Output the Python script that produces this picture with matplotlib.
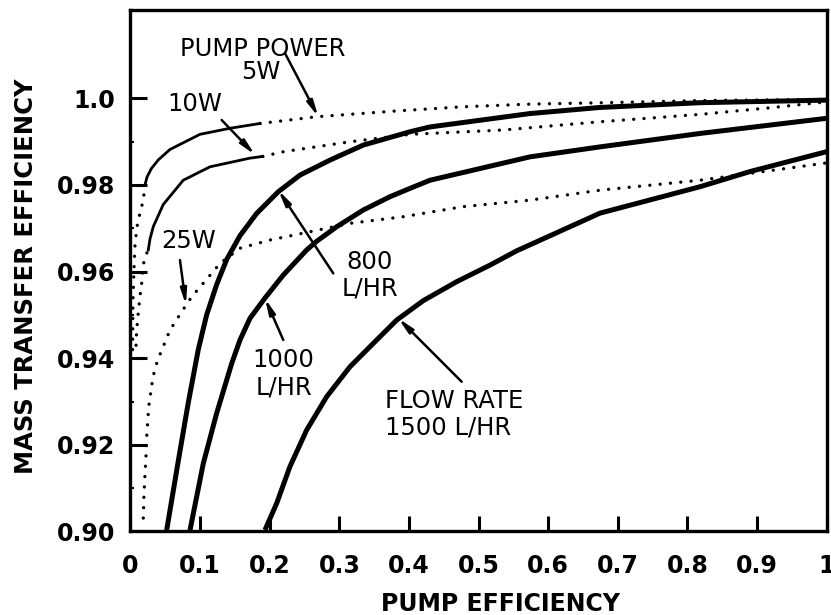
import matplotlib
matplotlib.use("Agg")
import matplotlib.pyplot as plt

# flow-rate curves (thick solid)
x_800 = [0.052, 0.0687, 0.083, 0.0974, 0.1094, 0.1238, 0.1382, 0.1573, 0.1813, 0.2123, 0.2435,
         0.2866, 0.3344, 0.4015, 0.430, 0.574, 0.674, 0.818, 1.0]
y_800 = [0.9003, 0.9163, 0.9297, 0.9420, 0.9500, 0.9570, 0.9628, 0.9683, 0.97345, 0.97844, 0.98229,
         0.98575, 0.98922, 0.99229, 0.9934, 0.9965, 0.9979, 0.9990, 0.9996]

x_1000 = [0.0855, 0.1046, 0.1238, 0.1454, 0.1573, 0.1716, 0.1932, 0.2195, 0.2531, 0.2674, 0.2962,
          0.3344, 0.3727, 0.4015, 0.4302, 0.5739, 0.6744, 0.818, 1.0]
y_1000 = [0.9003, 0.9157, 0.9273, 0.9388, 0.9442, 0.9492, 0.9539, 0.95921, 0.9650, 0.9670, 0.97036,
          0.97422, 0.97729, 0.97922, 0.9811, 0.9865, 0.9888, 0.9919, 0.9954]

x_1500 = [0.1932, 0.21, 0.2291, 0.2531, 0.2818, 0.3153, 0.3488, 0.3824, 0.4206, 0.4685, 0.5164,
          0.5547, 0.6744, 0.818, 0.8898, 1.0]
y_1500 = [0.90035, 0.9065, 0.915, 0.92343, 0.93112, 0.93804, 0.94344, 0.94882, 0.95330, 0.95767, 0.9615,
          0.9648, 0.9735, 0.9796, 0.9831, 0.9877]

# pump power curves: thin solid part + dotted parts
x_5w_solid = [0.0208, 0.0237, 0.030, 0.040, 0.0567, 0.0998, 0.1429, 0.186]
y_5w_solid = [0.9800, 0.9818, 0.9838, 0.9858, 0.9882, 0.9917, 0.9931, 0.9942]
x_5w_dot = [0.003, 0.0036, 0.005, 0.0065, 0.0093, 0.0136, 0.0184, 0.0208]
y_5w_dot = [0.9420, 0.9534, 0.9604, 0.9661, 0.9703, 0.9735, 0.9765, 0.9800]
x_5w_dot2 = [0.186, 0.2674, 0.3824, 0.4776, 0.5739, 0.6744, 0.818, 1.0]
y_5w_dot2 = [0.9942, 0.99576, 0.9971, 0.99806, 0.99868, 0.99898, 0.99949, 0.99977]

x_10w_solid = [0.0256, 0.028, 0.0328, 0.0471, 0.0758, 0.1142, 0.1716, 0.19]
y_10w_solid = [0.9650, 0.9675, 0.9704, 0.9755, 0.9811, 0.9842, 0.9862, 0.9866]
x_10w_dot = [0.008, 0.0089, 0.0112, 0.0136, 0.0161, 0.0184, 0.0208, 0.0256]
y_10w_dot = [0.9430, 0.9465, 0.9504, 0.9542, 0.9573, 0.9615, 0.9634, 0.9650]
x_10w_dot2 = [0.19, 0.2195, 0.3153, 0.4015, 0.5355, 0.6744, 0.818, 0.9229, 1.0]
y_10w_dot2 = [0.9866, 0.98768, 0.98998, 0.9917, 0.9927, 0.9946, 0.9963, 0.9979, 0.9992]

x_25w = [0.0184, 0.0194, 0.0208, 0.0223, 0.0233, 0.0256, 0.027, 0.0294, 0.0313, 0.0352, 0.0414,
         0.0471, 0.0567, 0.0735, 0.0879, 0.0998, 0.1286, 0.1573, 0.2004, 0.2578, 0.3153, 0.3918,
         0.4776, 0.5739, 0.6744, 0.818, 1.0]
y_25w = [0.9031, 0.9084, 0.9130, 0.9173, 0.9219, 0.9273, 0.9300, 0.9323, 0.9346, 0.9377, 0.9405,
         0.9427, 0.9465, 0.9507, 0.9542, 0.9564, 0.9619, 0.9654, 0.9673, 0.9692, 0.97115, 0.97267,
         0.9750, 0.9765, 0.9788, 0.9811, 0.9851]

x_ticks = [0, 0.1, 0.2, 0.3, 0.4, 0.5, 0.6, 0.7, 0.8, 0.9, 1.0]
x_ticklabels = ["0", "0.1", "0.2", "0.3", "0.4", "0.5", "0.6", "0.7", "0.8", "0.9", "1"]
y_ticks = [0.90, 0.92, 0.94, 0.96, 0.98, 1.0]
y_ticklabels = ["0.90", "0.92", "0.94", "0.96", "0.98", "1.0"]

fig = plt.figure(figsize=(8.31, 6.15), dpi=100)
ax = fig.add_axes([0.157, 0.1358, 0.8378, 0.8479])

thick = dict(color="black", lw=3.6, solid_capstyle="butt", solid_joinstyle="round")
thin = dict(color="black", lw=2.0, solid_joinstyle="round")
dots = dict(color="black", lw=2.4, linestyle=(0, (0.01, 3.1)), dash_capstyle="round")

ax.plot(x_800, y_800, **thick)
ax.plot(x_1000, y_1000, **thick)
ax.plot(x_1500, y_1500, **thick)

ax.plot(x_5w_solid, y_5w_solid, **thin)
ax.plot(x_5w_dot, y_5w_dot, **dots)
ax.plot(x_5w_dot2, y_5w_dot2, **dots)
ax.plot(x_10w_solid, y_10w_solid, **thin)
ax.plot(x_10w_dot, y_10w_dot, **dots)
ax.plot(x_10w_dot2, y_10w_dot2, **dots)
ax.plot(x_25w, y_25w, **dots)

ax.set_xlim(0, 1.0)
ax.set_ylim(0.90, 1.0204)
ax.set_xticks(x_ticks)
ax.set_xticklabels(x_ticklabels)
ax.set_yticks(y_ticks)
ax.set_yticklabels(y_ticklabels)
ax.set_yticks([0.91, 0.93, 0.95, 0.97, 0.99], minor=True)

for s in ax.spines.values():
    s.set_linewidth(2.4)
ax.tick_params(axis="both", direction="in", width=2.2, labelsize=17)
ax.tick_params(axis="y", length=12, pad=11)
ax.tick_params(axis="x", length=11, pad=16, top=False)
ax.tick_params(axis="y", which="minor", direction="in", length=3, width=1.5)
for lab in ax.get_xticklabels() + ax.get_yticklabels():
    lab.set_fontweight("bold")

fig.text(500 / 831, 1 - 604 / 615, "PUMP EFFICIENCY", ha="center", va="center",
         fontsize=17, fontweight="bold")
fig.text(26 / 831, 1 - 276 / 615, "MASS TRANSFER EFFICIENCY", ha="center", va="center",
         rotation=90, fontsize=17.5, fontweight="bold")

txt = dict(fontsize=17.5, color="black")
ax.text(0.0711, 1.0113, "PUMP POWER", ha="left", va="center", **txt)
ax.text(0.1867, 1.0060, "5W", ha="center", va="center", **txt)
ax.text(0.0926, 0.9987, "10W", ha="center", va="center", **txt)
ax.text(0.0831, 0.9671, "25W", ha="center", va="center", **txt)
ax.text(0.344, 0.9591, "800\nL/HR", ha="center", va="center", multialignment="center",
        linespacing=1.15, **txt)
ax.text(0.220, 0.9364, "1000\nL/HR", ha="center", va="center", multialignment="center",
        linespacing=1.15, **txt)
ax.text(0.3656, 0.9271, "FLOW RATE\n1500 L/HR", ha="left", va="center",
        multialignment="left", linespacing=1.15, **txt)

arrow = dict(arrowstyle="-|>,head_length=0.9,head_width=0.18", color="black", lw=1.8,
             shrinkA=0, shrinkB=0)
ax.annotate("", xy=(0.2698, 0.99575), xytext=(0.222, 1.0104), arrowprops=arrow)
ax.annotate("", xy=(0.1788, 0.98698), xytext=(0.131, 0.995), arrowprops=arrow)
ax.annotate("", xy=(0.0797, 0.95229), xytext=(0.0711, 0.96267), arrowprops=arrow)
ax.annotate("", xy=(0.2123, 0.97883), xytext=(0.2913, 0.9596), arrowprops=arrow)
ax.annotate("", xy=(0.1932, 0.95383), xytext=(0.2195, 0.94421), arrowprops=arrow)
ax.annotate("", xy=(0.3847, 0.94922), xytext=(0.4757, 0.93458), arrowprops=arrow)

fig.savefig("out.png", dpi=100)
